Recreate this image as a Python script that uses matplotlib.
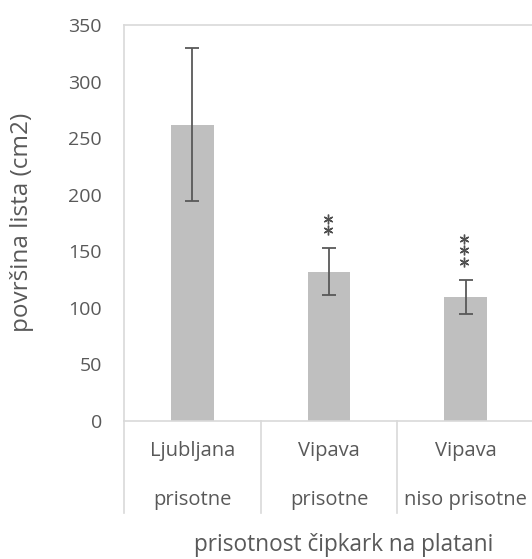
import numpy as np
import matplotlib.pyplot as plt
from matplotlib.transforms import blended_transform_factory, offset_copy

# podatki
mesta = ['Ljubljana', 'Vipava', 'Vipava']
cipkarke = ['prisotne', 'prisotne', 'niso prisotne']
povrsina = [262, 132, 109.5]
napaka = [67.5, 21, 15.3]
zvezdice = [0, 2, 3]

siva = '#595959'
plt.rcParams['font.family'] = ['Open Sans', 'DejaVu Sans']

fig = plt.figure(figsize=(5.32, 5.59), dpi=100)
ax = fig.add_axes([124 / 532, 1 - 421 / 559, 410 / 532, 396 / 559])

x = np.arange(len(povrsina))
ax.bar(x, povrsina, width=0.31, color='#bfbfbf', zorder=2)
ax.errorbar(x, povrsina, yerr=napaka, fmt='none', ecolor=siva,
            elinewidth=1.3, capsize=5, capthick=1.3, zorder=3)

ax.set_xlim(-0.5, 2.5)
ax.set_ylim(0, 350)
ax.set_yticks(range(0, 351, 50))
ax.tick_params(axis='y', length=0, labelsize=14, labelcolor=siva, pad=16)
ax.set_xticks([])
for s in ax.spines.values():
    s.set_color('#d9d9d9')
    s.set_linewidth(1.2)

# zvezdice nad stolpci
for i, n in enumerate(zvezdice):
    for k in range(n):
        tr_z = offset_copy(ax.transData, fig, x=0, y=12.6 + 8.5 * k, units='points')
        ax.plot(i - 0.01, povrsina[i] + napaka[i], marker=(6, 2, 0), ms=7,
                mew=1.0, color='#505050', transform=tr_z, clip_on=False)

# tabela kategorij pod osjo
tr = blended_transform_factory(ax.transData, ax.transAxes)
for xb in [-0.5, 0.5, 1.5]:
    ax.plot([xb, xb], [0, -92 / 396], transform=tr, color='#d9d9d9',
            lw=1.2, clip_on=False)
for i in range(len(mesta)):
    ax.text(i, -30 / 396, mesta[i], transform=tr, ha='center', va='center',
            fontsize=14.5, color=siva)
    ax.text(i, -79 / 396, cipkarke[i], transform=tr, ha='center', va='center',
            fontsize=14.5, color=siva)

fig.text(344 / 532, 1 - 545 / 559, 'prisotnost čipkark na platani',
         ha='center', va='center', fontsize=16.3, color=siva)
fig.text(22 / 532, 1 - 222 / 559, 'površina lista (cm2)', rotation=90,
         ha='center', va='center', fontsize=17.5, color=siva)

plt.savefig('out.png', dpi=100)
